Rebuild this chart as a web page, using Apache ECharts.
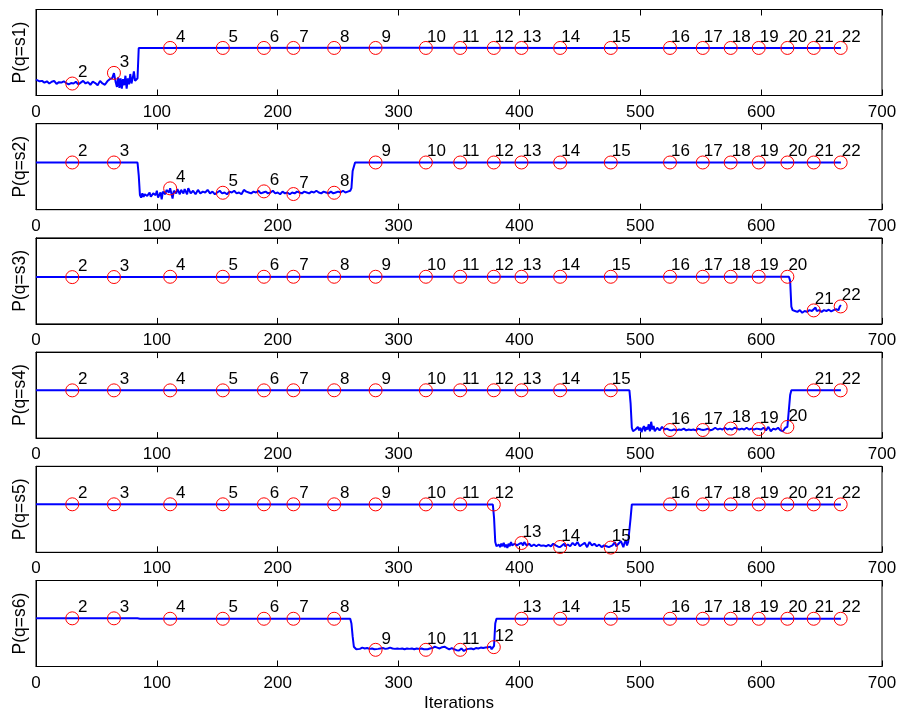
<!DOCTYPE html>
<html>
<head>
<meta charset="utf-8">
<script src="https://cdn.jsdelivr.net/npm/echarts@6/dist/echarts.min.js"></script>
<style>html,body{margin:0;padding:0;background:#fff}#c{width:900px;height:717px}</style>
</head>
<body>
<div id="c"></div>
<script>
// ---- data ----
const xTicks = [0, 100, 200, 300, 400, 500, 600, 700];
const markLabels = ['2','3','4','5','6','7','8','9','10','11','12','13','14','15','16','17','18','19','20','21','22'];
const markIters = [30, 64.5, 111, 154.6, 188.6, 213, 246.7, 281, 322.6, 351, 378.8, 401.7, 433.7, 475.6, 524.6, 551.7, 574.8, 598, 621.7, 643.5, 665.8];
const yNames = ['P(q=s1)', 'P(q=s2)', 'P(q=s3)', 'P(q=s4)', 'P(q=s5)', 'P(q=s6)'];
const xName = 'Iterations';

const s1Marks = [0.139, 0.263, 0.553, 0.553, 0.553, 0.553, 0.553, 0.553, 0.553, 0.553, 0.553, 0.553, 0.553, 0.553, 0.553, 0.553, 0.553, 0.553, 0.553, 0.553, 0.553];
const s2Marks = [0.549, 0.549, 0.248, 0.197, 0.213, 0.182, 0.197, 0.549, 0.549, 0.549, 0.549, 0.549, 0.549, 0.549, 0.549, 0.549, 0.549, 0.549, 0.549, 0.549, 0.549];
const s3Marks = [0.544, 0.545, 0.548, 0.548, 0.548, 0.548, 0.548, 0.548, 0.548, 0.548, 0.548, 0.548, 0.548, 0.548, 0.548, 0.548, 0.548, 0.548, 0.548, 0.157, 0.203];
const s4Marks = [0.555, 0.555, 0.555, 0.555, 0.555, 0.556, 0.556, 0.556, 0.556, 0.556, 0.556, 0.556, 0.556, 0.556, 0.094, 0.094, 0.11, 0.105, 0.13, 0.555, 0.555];
const s5Marks = [0.558, 0.558, 0.558, 0.558, 0.558, 0.558, 0.558, 0.557, 0.557, 0.557, 0.556, 0.108, 0.062, 0.055, 0.557, 0.557, 0.557, 0.557, 0.557, 0.557, 0.557];
const s6Marks = [0.56, 0.56, 0.555, 0.555, 0.555, 0.555, 0.555, 0.194, 0.194, 0.194, 0.225, 0.555, 0.555, 0.555, 0.555, 0.555, 0.555, 0.555, 0.555, 0.555, 0.555];

const s1Line = [[0,0.185],[1,0.175],[3,0.165],[5,0.17],[7,0.15],[9,0.165],[11,0.14],[13,0.16],[15,0.17],[17,0.135],[19,0.155],[21,0.15],[23,0.165],[25,0.145],[27,0.13],[29,0.145],[31,0.14],[33,0.16],[35,0.13],[37,0.15],[39,0.17],[41,0.14],[43,0.155],[45,0.125],[47,0.16],[49,0.145],[51,0.12],[53,0.17],[55,0.14],[57,0.125],[59,0.165],[61,0.19],[63,0.2],[64.5,0.26],[66,0.15],[67,0.1],[68,0.21],[69,0.09],[70,0.2],[71,0.08],[72,0.19],[73,0.12],[74,0.23],[75,0.08],[76,0.2],[77,0.13],[78,0.25],[79,0.14],[80,0.2],[81,0.28],[82,0.17],[83,0.19],[84,0.2],[85,0.553],[300,0.555],[450,0.553],[666,0.552]];
const s2Line = [[0,0.549],[84,0.549],[85,0.4],[86,0.17],[87,0.14],[88,0.19],[89,0.15],[90,0.18],[92,0.16],[94,0.2],[95,0.15],[97,0.19],[99,0.17],[100,0.22],[101,0.14],[103,0.2],[104,0.12],[105,0.21],[107,0.18],[108,0.23],[110,0.2],[111,0.25],[112,0.19],[113,0.13],[114,0.22],[116,0.19],[117,0.24],[119,0.18],[120,0.23],[122,0.19],[123,0.24],[125,0.18],[126,0.25],[128,0.19],[130,0.22],[132,0.18],[134,0.23],[136,0.19],[138,0.21],[140,0.2],[142,0.23],[144,0.19],[146,0.21],[148,0.18],[150,0.2],[152,0.22],[154,0.19],[156,0.2],[158,0.18],[160,0.21],[162,0.2],[164,0.22],[166,0.19],[168,0.2],[170,0.18],[172,0.23],[174,0.21],[176,0.2],[178,0.19],[180,0.21],[182,0.2],[184,0.22],[186,0.19],[188,0.2],[190,0.21],[192,0.19],[194,0.2],[196,0.22],[198,0.19],[200,0.2],[202,0.18],[204,0.21],[206,0.19],[208,0.2],[210,0.18],[212,0.2],[214,0.19],[216,0.21],[218,0.2],[220,0.19],[222,0.21],[224,0.2],[226,0.19],[228,0.21],[230,0.2],[232,0.22],[234,0.2],[236,0.19],[238,0.21],[240,0.2],[242,0.19],[244,0.21],[246,0.19],[248,0.2],[250,0.21],[252,0.2],[254,0.22],[256,0.2],[258,0.21],[260,0.22],[261,0.25],[262,0.45],[264,0.549],[666,0.549]];
const s3Line = [[0,0.544],[85,0.545],[86,0.55],[300,0.549],[623,0.548],[624,0.5],[625,0.2],[626,0.16],[628,0.15],[630,0.14],[632,0.16],[634,0.13],[636,0.15],[638,0.14],[640,0.16],[642,0.15],[643.5,0.17],[645,0.19],[646,0.15],[648,0.16],[650,0.14],[652,0.16],[654,0.15],[656,0.165],[658,0.145],[660,0.16],[662,0.17],[664,0.16],[665,0.2],[666,0.22]];
const s4Line = [[0,0.555],[300,0.556],[491,0.556],[492,0.4],[493,0.12],[494,0.08],[495,0.065],[496,0.1],[497,0.08],[498,0.13],[499,0.09],[500,0.12],[501,0.07],[502,0.11],[503,0.14],[504,0.08],[505,0.13],[506,0.1],[507,0.16],[508,0.08],[509,0.19],[510,0.1],[511,0.14],[512,0.08],[514,0.12],[516,0.09],[518,0.13],[520,0.1],[522,0.11],[524,0.095],[526,0.09],[528,0.1],[530,0.09],[532,0.1],[534,0.095],[536,0.11],[538,0.09],[540,0.1],[542,0.095],[544,0.1],[546,0.09],[548,0.11],[550,0.1],[552,0.095],[554,0.1],[556,0.11],[558,0.09],[560,0.1],[562,0.12],[564,0.1],[566,0.11],[568,0.1],[570,0.12],[572,0.1],[574,0.11],[576,0.1],[578,0.12],[580,0.11],[582,0.1],[584,0.11],[586,0.1],[588,0.12],[590,0.1],[592,0.11],[594,0.1],[596,0.11],[598,0.105],[600,0.1],[602,0.12],[604,0.09],[606,0.13],[608,0.08],[610,0.11],[612,0.1],[614,0.12],[616,0.09],[618,0.08],[620,0.12],[621.7,0.13],[623,0.15],[624,0.5],[625,0.555],[666,0.555]];
const s5Line = [[0,0.558],[300,0.557],[378,0.556],[379,0.4],[380,0.12],[381,0.07],[382,0.05],[383,0.09],[384,0.06],[385,0.1],[386,0.07],[387,0.11],[388,0.06],[389,0.09],[390,0.05],[391,0.1],[392,0.07],[393,0.12],[394,0.08],[395,0.06],[396,0.1],[398,0.08],[400,0.1],[401.7,0.108],[403,0.08],[404,0.12],[406,0.08],[408,0.1],[410,0.07],[412,0.09],[414,0.07],[416,0.09],[418,0.075],[420,0.08],[422,0.07],[424,0.085],[426,0.07],[428,0.1],[430,0.08],[432,0.065],[433.7,0.062],[435,0.08],[437,0.1],[438,0.07],[440,0.09],[442,0.07],[444,0.11],[446,0.08],[448,0.12],[450,0.07],[452,0.09],[454,0.11],[456,0.06],[458,0.12],[460,0.08],[462,0.1],[464,0.07],[466,0.09],[468,0.06],[470,0.08],[472,0.07],[474,0.06],[475.6,0.055],[477,0.08],[479,0.12],[480,0.07],[482,0.1],[484,0.13],[486,0.06],[487,0.11],[488,0.14],[489,0.08],[490,0.12],[491,0.1],[492,0.4],[493,0.557],[666,0.557]];
const s6Line = [[0,0.56],[84,0.56],[86,0.555],[260,0.555],[261,0.5],[262,0.35],[263,0.23],[265,0.2],[266,0.22],[268,0.205],[270,0.22],[272,0.21],[274,0.215],[276,0.205],[278,0.21],[280,0.2],[281,0.194],[283,0.205],[285,0.21],[287,0.215],[289,0.205],[291,0.21],[293,0.22],[295,0.21],[297,0.205],[299,0.21],[301,0.205],[303,0.21],[305,0.2],[307,0.21],[309,0.205],[311,0.21],[313,0.2],[315,0.21],[317,0.205],[319,0.21],[321,0.2],[322.6,0.194],[324,0.2],[326,0.21],[328,0.215],[330,0.23],[332,0.22],[334,0.21],[336,0.225],[338,0.23],[340,0.215],[342,0.2],[344,0.215],[346,0.2],[348,0.19],[350,0.185],[351,0.194],[352,0.21],[354,0.18],[356,0.2],[358,0.205],[360,0.21],[362,0.2],[364,0.215],[366,0.21],[368,0.22],[370,0.215],[372,0.22],[374,0.225],[376,0.23],[377,0.2],[378,0.22],[379,0.24],[380,0.5],[381,0.555],[666,0.555]];

const lines = [s1Line, s2Line, s3Line, s4Line, s5Line, s6Line];
const marks = [s1Marks, s2Marks, s3Marks, s4Marks, s5Marks, s6Marks];

// ---- layout ----
const FONT = "'Liberation Sans', Arial, Helvetica, sans-serif";
const gridTop0 = 9.5, gridStep = 114.2, gridH = 86;
const grids = [], xAxes = [], yAxes = [], series = [];
for (let i = 0; i < 6; i++) {
  grids.push({ left: 36, right: 18, top: gridTop0 + i * gridStep, height: gridH,
    show: true, borderColor: '#000', borderWidth: 1, backgroundColor: 'transparent' });
  const isLast = i === 5;
  xAxes.push({
    gridIndex: i, type: 'value', min: xTicks[0], max: xTicks[xTicks.length - 1], interval: 100,
    position: 'bottom',
    name: isLast ? xName : '', nameLocation: 'middle', nameGap: 28,
    nameTextStyle: { fontFamily: FONT, fontSize: 17, color: '#000' },
    axisLine: { show: true, lineStyle: { color: '#000', width: 1 } },
    axisTick: { show: true, inside: true, length: 6, lineStyle: { color: '#000' } },
    axisLabel: { show: true, fontFamily: FONT, fontSize: 17, color: '#000', margin: 8 },
    splitLine: { show: false }
  });
  xAxes.push({
    gridIndex: i, type: 'value', min: xTicks[0], max: xTicks[xTicks.length - 1], interval: 100,
    position: 'top',
    axisLine: { show: true, lineStyle: { color: '#000', width: 1 } },
    axisTick: { show: true, inside: true, length: 6, lineStyle: { color: '#000' } },
    axisLabel: { show: false }, splitLine: { show: false }
  });
  yAxes.push({
    gridIndex: i, type: 'value', min: 0, max: 1,
    name: yNames[i], nameLocation: 'middle', nameGap: 7, nameRotate: 90,
    nameTextStyle: { fontFamily: FONT, fontSize: 17.5, color: '#000' },
    axisLine: { show: true, lineStyle: { color: '#000', width: 1 } },
    axisTick: { show: false }, axisLabel: { show: false }, splitLine: { show: false }
  });
  series.push({
    type: 'line', xAxisIndex: 2 * i, yAxisIndex: i, data: lines[i],
    showSymbol: false, symbol: 'none', animation: false,
    lineStyle: { color: '#0000ff', width: 2 }, z: 2
  });
  series.push({
    type: 'scatter', xAxisIndex: 2 * i, yAxisIndex: i, animation: false,
    data: markIters.map((x, k) => ({ value: [x, marks[i][k]], name: markLabels[k] })),
    symbol: 'circle', symbolSize: 13,
    itemStyle: { color: 'rgba(0,0,0,0)', borderColor: '#ff0000', borderWidth: 1, opacity: 1 },
    label: { show: true, formatter: '{b}', position: 'inside', offset: [10.5, -11],
      fontFamily: FONT, fontSize: 17, color: '#000', opacity: 1, textBorderWidth: 0, textBorderColor: 'transparent' },
    emphasis: { disabled: true }, z: 3
  });
}

const chart = echarts.init(document.getElementById('c'), null, { renderer: 'canvas' });
chart.setOption({ animation: false, backgroundColor: '#fff', grid: grids, xAxis: xAxes, yAxis: yAxes, series: series });
</script>
</body>
</html>
